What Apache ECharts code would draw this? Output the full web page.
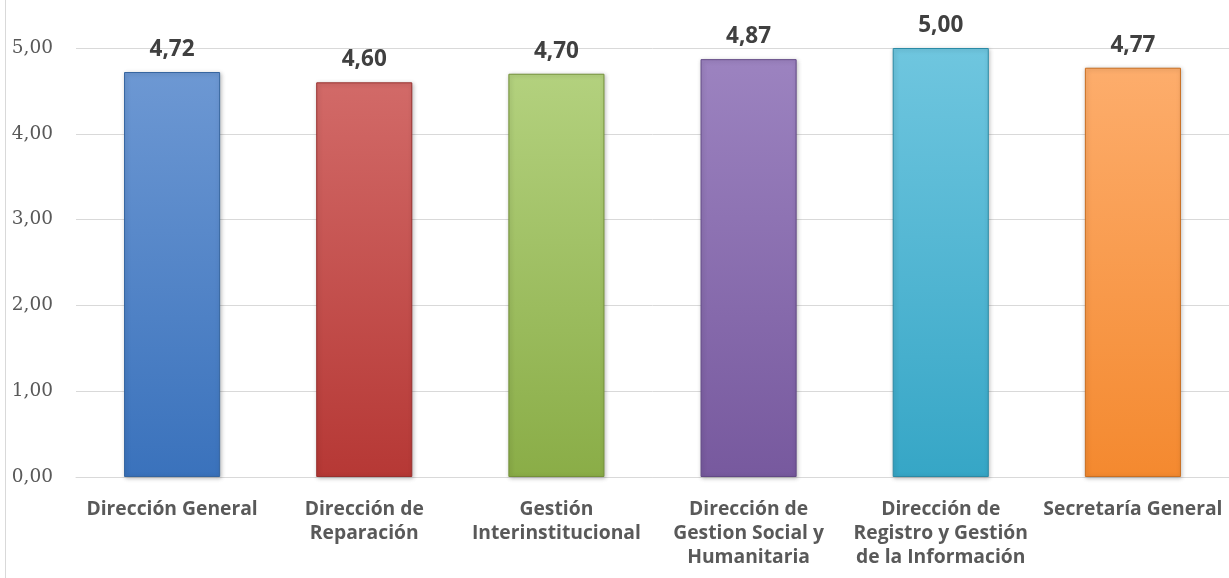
<!DOCTYPE html>
<html>
<head>
<meta charset="utf-8">
<script src="https://cdn.jsdelivr.net/npm/echarts@6/dist/echarts.min.js"></script>
<style>
  html, body { margin: 0; padding: 0; background: #fff; }
  #main { width: 1229px; height: 578px; }
</style>
</head>
<body>
<div id="main"></div>
<script>
// categories and values
var categories = [
    'Dirección General',
    'Dirección de\nReparación',
    'Gestión\nInterinstitucional',
    'Dirección de\nGestion Social y\nHumanitaria',
    'Dirección de\nRegistro y Gestión\nde la Información',
    'Secretaría General'
];
var values = [4.72, 4.60, 4.70, 4.87, 5.00, 4.77];
var yTicks = [0, 1, 2, 3, 4, 5];

// top / bottom colour of each bar
var barColors = [
    ['#6d98d3', '#3a72bc'],
    ['#d26a68', '#b63835'],
    ['#b3d17e', '#8aad47'],
    ['#9c83c0', '#77599e'],
    ['#6fc6df', '#36a6c6'],
    ['#fdad6c', '#f4892f']
];
var edgeColors = ['#35659f', '#98302e', '#749139', '#624985', '#2b8aa5', '#c96f22'];

function fmt(v) {
    return v.toFixed(2).replace('.', ',');
}

let chart = echarts.init(document.getElementById('main'));

let data = values.map(function (v, i) {
    return {
        value: v,
        itemStyle: {
            color: new echarts.graphic.LinearGradient(0, 0, 0, 1, [
                { offset: 0, color: barColors[i][0] },
                { offset: 1, color: barColors[i][1] }
            ]),
            borderColor: edgeColors[i],
            borderWidth: 1,
            shadowColor: 'rgba(0,0,0,0.25)',
            shadowBlur: 4,
            shadowOffsetX: 1,
            shadowOffsetY: 1
        }
    };
});

let option = {
    animation: false,
    backgroundColor: '#fff',
    grid: {
        left: 76,
        right: 0,
        top: 48,
        bottom: 101
    },
    graphic: [{
        type: 'line',
        shape: { x1: 5.5, y1: 0, x2: 5.5, y2: 578 },
        style: { stroke: '#d9d9d9', lineWidth: 1 }
    }],
    xAxis: {
        type: 'category',
        data: categories,
        axisLine: { show: true, lineStyle: { color: '#d9d9d9', width: 1 } },
        axisTick: { show: false },
        axisLabel: {
            interval: 0,
            margin: 21,
            fontFamily: 'Open Sans',
            fontWeight: 'bold',
            fontSize: 19.3,
            lineHeight: 24,
            color: '#595959',
            align: 'center'
        }
    },
    yAxis: {
        type: 'value',
        min: yTicks[0],
        max: yTicks[yTicks.length - 1],
        interval: 1,
        axisLine: { show: false },
        axisTick: { show: false },
        splitLine: { lineStyle: { color: '#d9d9d9', width: 1 } },
        axisLabel: {
            margin: 23,
            fontFamily: 'DejaVu Serif',
            fontSize: 18.5,
            color: '#595959',
            formatter: function (v) { return fmt(v); }
        }
    },
    series: [{
        type: 'bar',
        data: data,
        barWidth: '50%',
        label: {
            show: true,
            position: 'top',
            distance: 11,
            fontFamily: 'Open Sans',
            fontWeight: 'bold',
            fontSize: 22.5,
            color: '#404040',
            formatter: function (p) { return fmt(p.value); }
        }
    }]
};

chart.setOption(option);
</script>
</body>
</html>
